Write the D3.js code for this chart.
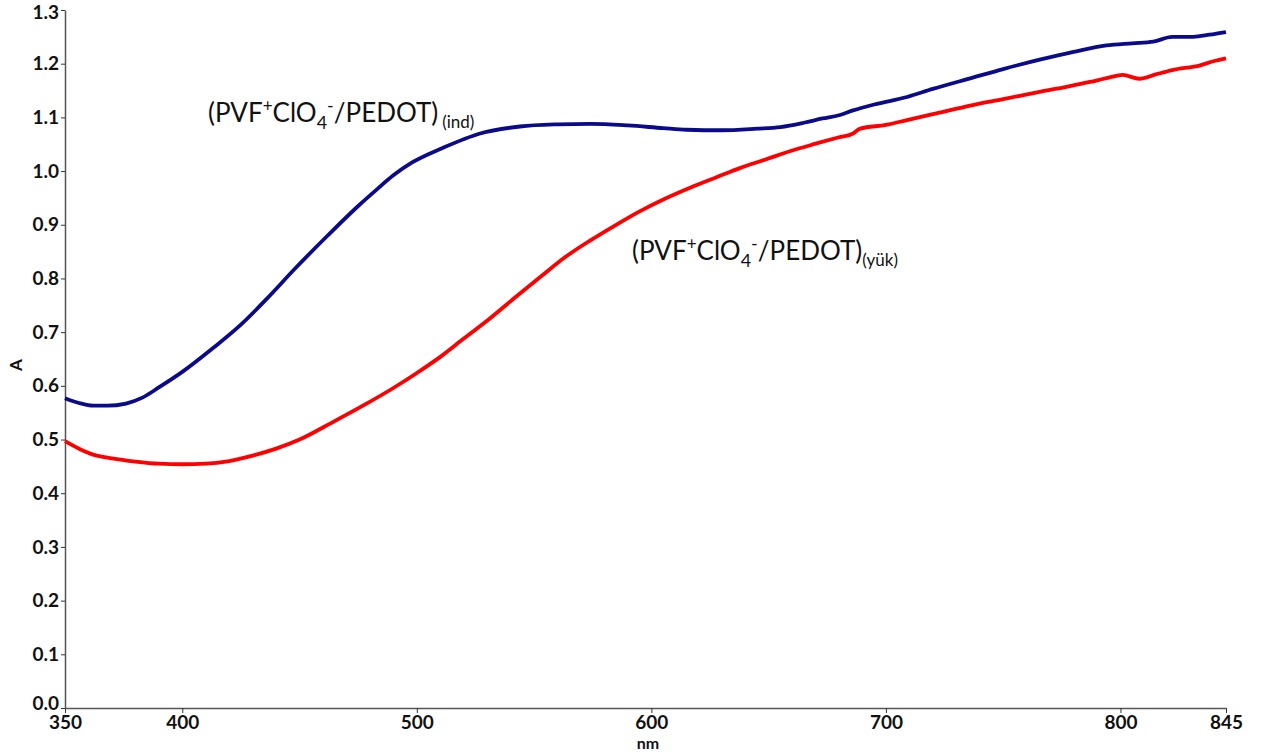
<!DOCTYPE html>
<html>
<head>
<meta charset="utf-8">
<script src="https://cdn.jsdelivr.net/npm/d3@7/dist/d3.min.js"></script>
<style>
  html, body { margin: 0; padding: 0; background: #fff; }
  svg { display: block; }
</style>
</head>
<body>
<svg id="chart" width="1265" height="752"></svg>
<script>
// ---- data ----
const xTicks = [350, 400, 500, 600, 700, 800, 845];
const yTicks = [0.0, 0.1, 0.2, 0.3, 0.4, 0.5, 0.6, 0.7, 0.8, 0.9, 1.0, 1.1, 1.2, 1.3];

const indNm = [350,356,362,368,376,383,390,400,413,425,436,448,462,475,483,490,498,511,527,544,560,574,590,605,615,630,645,655,665,673,680,686,695,709,720,737,750,766,780,794,805,814,822,831,838,845];
const indA  = [0.577,0.568,0.563,0.563,0.567,0.578,0.597,0.626,0.670,0.714,0.762,0.818,0.880,0.935,0.966,0.992,1.016,1.043,1.070,1.083,1.087,1.088,1.085,1.080,1.077,1.076,1.079,1.082,1.090,1.098,1.104,1.113,1.124,1.138,1.153,1.174,1.190,1.208,1.222,1.234,1.238,1.241,1.250,1.250,1.254,1.259];

const yukNm = [350,356,362,370,380,390,400,410,420,430,440,450,464,477,490,500,510,520,531,542,553,563,574,585,595,606,617,628,638,649,659,670,680,686,689,700,709,720,737,750,766,777,787,795,801,808,815,822,834,840,845];
const yukA  = [0.497,0.483,0.472,0.465,0.459,0.455,0.454,0.455,0.460,0.470,0.483,0.500,0.532,0.563,0.596,0.624,0.654,0.688,0.725,0.765,0.804,0.839,0.871,0.900,0.925,0.949,0.970,0.989,1.006,1.022,1.037,1.051,1.063,1.070,1.079,1.086,1.095,1.106,1.123,1.134,1.148,1.157,1.166,1.174,1.179,1.172,1.180,1.188,1.197,1.205,1.210];

const seriesColors = ["#0a0a8a", "#ff0000"];

// ---- layout ----
const svg = d3.select("#chart");
const x = d3.scaleLinear().domain([350, 845]).range([65, 1226]);
const y = d3.scaleLinear().domain([0, 1.3]).range([708, 10]);

const tickFont = "Lato, 'Open Sans', 'Liberation Sans', sans-serif";

// x axis
const gx = svg.append("g").attr("transform", `translate(0,${y(0)})`)
  .call(d3.axisBottom(x).tickValues(xTicks).tickFormat(d3.format("d")).tickSize(5).tickSizeOuter(0));
gx.select(".domain").attr("stroke", "#555").attr("stroke-width", 1.5);
gx.selectAll(".tick line").attr("stroke", "#333");
gx.selectAll(".tick text").attr("font-family", tickFont).attr("font-weight", "bold")
  .attr("font-size", 19).attr("fill", "#111").attr("dy", "0.7em");

// y axis
const gy = svg.append("g").attr("transform", `translate(${x(350)},0)`)
  .call(d3.axisLeft(y).tickValues(yTicks).tickFormat(d3.format(".1f")).tickSize(4).tickSizeOuter(0));
gy.select(".domain").attr("stroke", "#555").attr("stroke-width", 1.5);
gy.selectAll(".tick line").attr("stroke", "#333");
gy.selectAll(".tick text").attr("font-family", tickFont).attr("font-weight", "bold")
  .attr("font-size", 19).attr("fill", "#111").attr("x", -6);
gy.selectAll(".tick text").filter(d => d === 1.3).attr("dy", "0.45em");
gy.selectAll(".tick text").filter(d => d === 0).attr("dy", "0.1em");

// axis titles
svg.append("text").attr("x", 648).attr("y", 749).attr("text-anchor", "middle")
  .attr("font-family", tickFont).attr("font-weight", "bold").attr("font-size", 16).attr("fill", "#111").text("nm");
svg.append("text").attr("transform", "translate(22,365) rotate(-90)").attr("text-anchor", "middle")
  .attr("font-family", tickFont).attr("font-weight", "bold").attr("font-size", 17).attr("fill", "#111").text("A");

// lines
const line = d3.line().x(d => x(d[0])).y(d => y(d[1])).curve(d3.curveMonotoneX);
const indData = d3.zip(indNm, indA);
const yukData = d3.zip(yukNm, yukA);

svg.append("path").datum(yukData).attr("d", line).attr("fill", "none")
  .attr("stroke", seriesColors[1]).attr("stroke-width", 3.8).attr("stroke-linejoin", "round");
svg.append("path").datum(indData).attr("d", line).attr("fill", "none")
  .attr("stroke", seriesColors[0]).attr("stroke-width", 3.8).attr("stroke-linejoin", "round");

// annotations
const labFont = "Lato, 'Open Sans', 'Liberation Sans', sans-serif";
function label(px, py, sub, subGap) {
  const t = svg.append("text").attr("x", px).attr("y", py)
    .attr("font-family", labFont).attr("font-size", 26).attr("fill", "#111");
  t.append("tspan").text("(PVF");
  t.append("tspan").attr("font-size", 17).attr("dy", -10).text("+");
  t.append("tspan").attr("dy", 10).text("ClO");
  t.append("tspan").attr("font-size", 18).attr("dy", 7).text("4");
  t.append("tspan").attr("font-size", 18).attr("dy", -17).text("-");
  t.append("tspan").attr("dy", 10).text("/PEDOT)");
  t.append("tspan").attr("font-size", 17).attr("dy", 6).attr("dx", subGap).text(sub);
}
label(208, 122, "(ind)", 4);
label(632, 260, "(yük)", 0);
</script>
</body>
</html>
